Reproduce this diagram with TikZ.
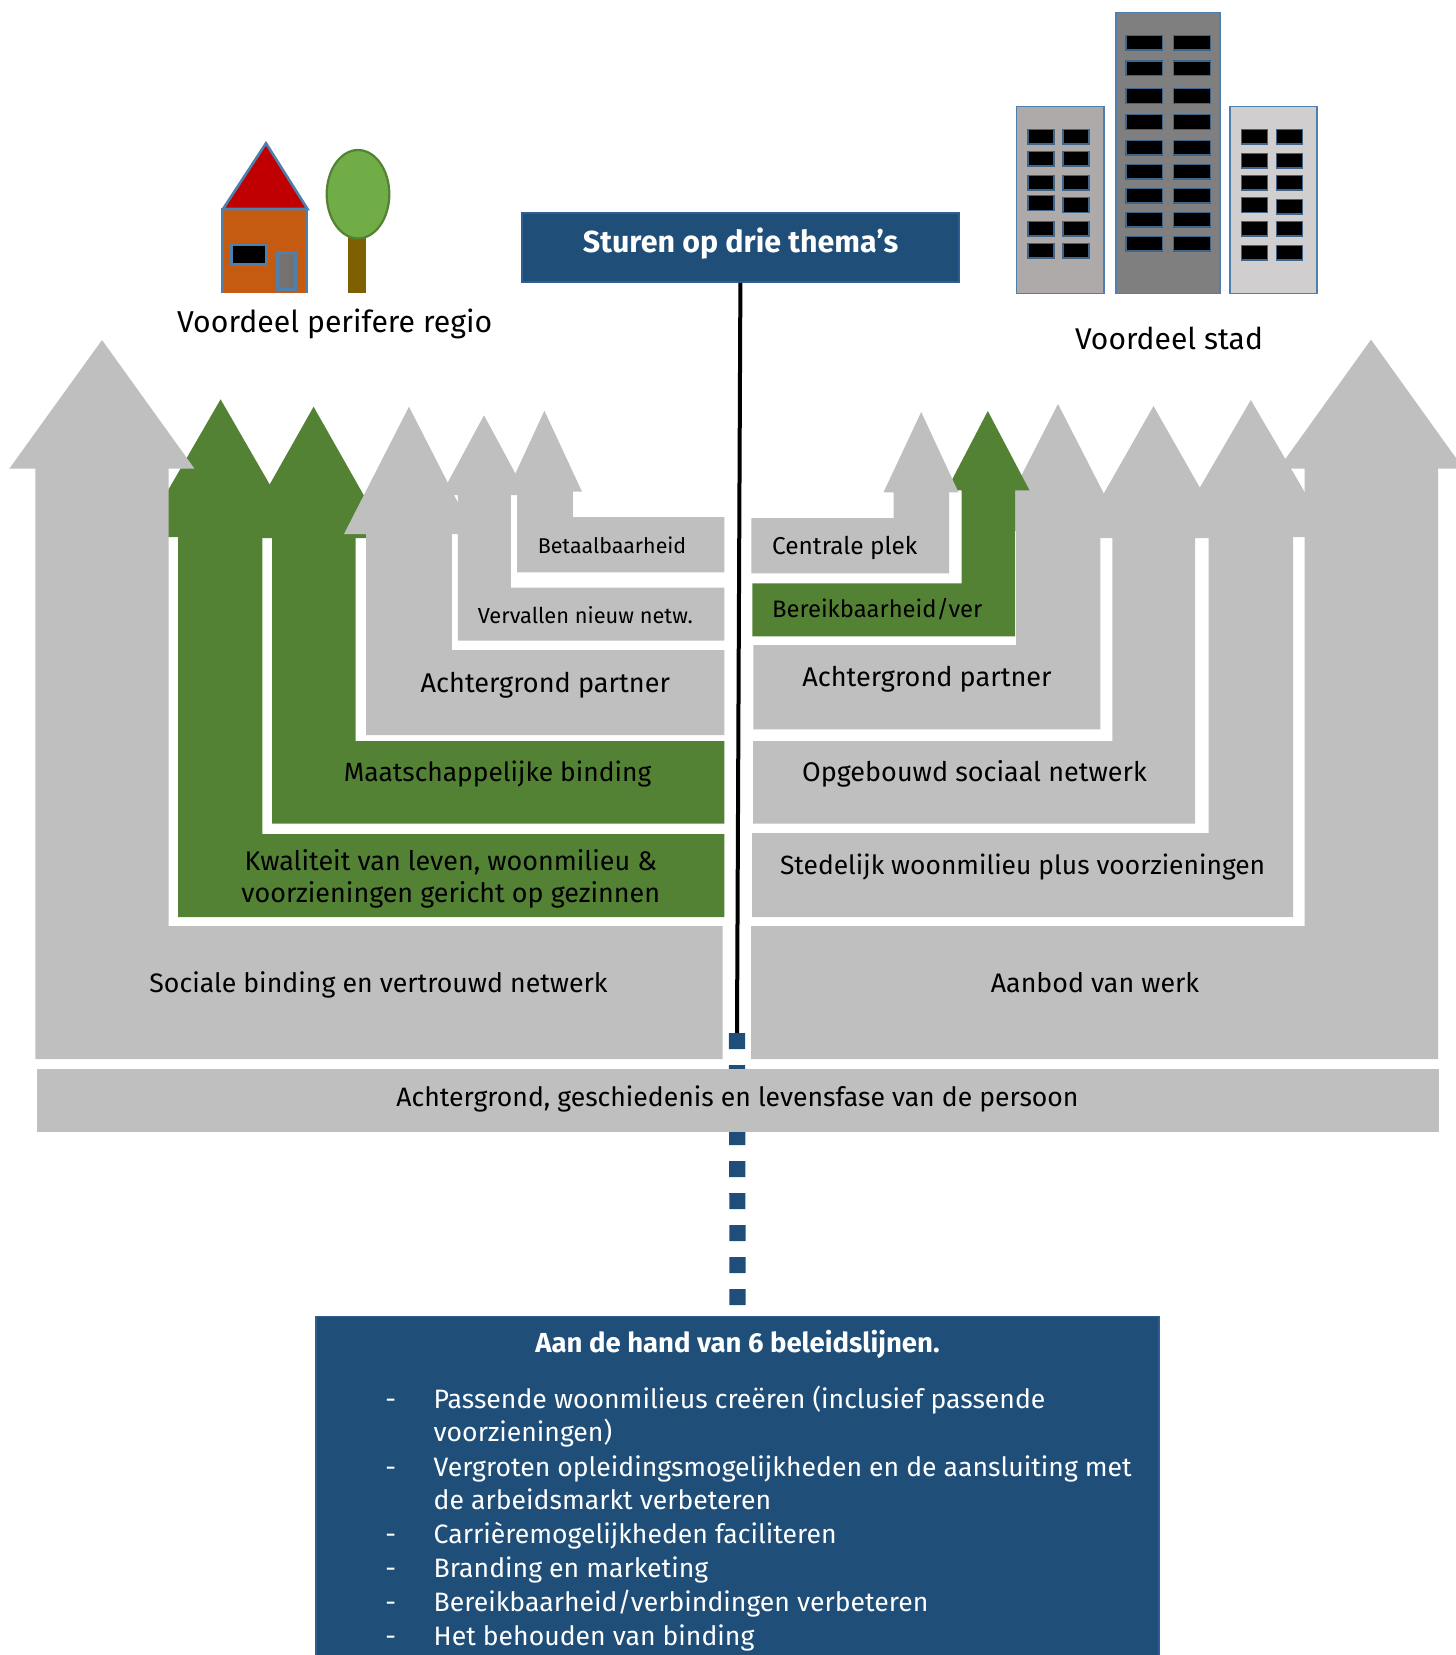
\documentclass[tikz,border=0pt]{standalone}
\usepackage{fontspec}
\setmainfont{Fira Sans}
\usetikzlibrary{calc}
\definecolor{greyfill}{HTML}{BFBFBF}
\definecolor{greenfill}{HTML}{548235}
\definecolor{navy}{HTML}{1F4E79}
\definecolor{navyline}{HTML}{2E5F92}
\definecolor{steel}{HTML}{4F7FAD}
\definecolor{brick}{HTML}{C55A11}
\definecolor{roofred}{HTML}{C00000}
\definecolor{leaf}{HTML}{70AD47}
\definecolor{trunk}{HTML}{7F6000}
\definecolor{doorgrey}{HTML}{767171}
\definecolor{bldA}{HTML}{AEAAAA}
\definecolor{bldB}{HTML}{7F7F7F}
\definecolor{bldC}{HTML}{D0CECE}
\newcommand{\fsz}[1]{\fontsize{#1}{15.8}\selectfont}
\tikzset{
  greyarrow/.style={fill=greyfill,draw=none},
  greenarrow/.style={fill=greenfill,draw=none},
  housepart/.style={draw=steel,line width=1.3pt},
  bld/.style={draw=steel,line width=0.8pt},
  win/.style={fill=black,draw=steel!80!black,line width=0.7pt},
  lbl/.style={inner sep=0pt,text=black,align=center},
  listlbl/.style={inner sep=0pt,text=white,anchor=base west,font=\fsz{13.3}},
}
\begin{document}
\begin{tikzpicture}[x=0.5pt,y=-0.5pt]
\useasboundingbox (0,0) rectangle (1456,1655);
\clip (0,0) rectangle (1456,1655);

% ---------- title box and centre line
\node[fill=navy,draw=navyline,line width=0.8pt,minimum width=218.6pt,minimum height=34.5pt,inner sep=0pt] (thema) at (740.4,247.5) {};
\node[inner sep=0pt,text=white,font=\fsz{15.2}\bfseries] (themalbl) at (740.6,243.8) {Sturen op drie thema’s};
\coordinate (lineend) at (737,1033);

% ---------- left stack
\draw[greenarrow] (220.6,399.3) -- (300,537) -- (262.4,537) -- (262.4,834) -- (724.3,834) -- (724.3,917) -- (178.2,917) -- (178.2,537) -- (141,537) -- cycle;
\draw[greenarrow] (313.6,406.7) -- (388,538) -- (355.5,538) -- (355.5,741) -- (724.3,741) -- (724.3,823.5) -- (272.2,823.5) -- (272.2,538) -- (239.4,538) -- cycle;
\draw[greyarrow] (409,406.7) -- (474,534) -- (451.8,534) -- (451.8,650) -- (724.3,650) -- (724.3,735) -- (366.2,735) -- (366.2,534) -- (344,534) -- cycle;
\draw[greyarrow] (484,415.3) -- (527,495) -- (510.9,495) -- (510.9,587.7) -- (724.3,587.7) -- (724.3,640.7) -- (457.9,640.7) -- (457.9,495) -- (441,495) -- cycle;
\draw[greyarrow] (544.4,410.7) -- (582,491.7) -- (572.8,491.7) -- (572.8,517) -- (724.3,517) -- (724.3,572.3) -- (517,572.3) -- (517,491.7) -- (507,491.7) -- cycle;
\draw[greyarrow] (102,340) -- (194.5,468.7) -- (168.5,468.7) -- (168.5,926) -- (722.7,926) -- (722.7,1059) -- (35.4,1059) -- (35.4,468.7) -- (9.3,468.7) -- cycle;

% ---------- right stack
\draw[greyarrow] (1250.8,400) -- (1331,537) -- (1293,537) -- (1293,917) -- (752,917) -- (752,833) -- (1208.6,833) -- (1208.6,537) -- (1171,537) -- cycle;
\draw[greyarrow] (1153.5,406) -- (1228.5,538) -- (1195.2,538) -- (1195.2,823.5) -- (753,823.5) -- (753,741) -- (1112.3,741) -- (1112.3,538) -- (1078.5,538) -- cycle;
\draw[greyarrow] (1058,404) -- (1123,531) -- (1100.3,531) -- (1100.3,729.3) -- (753.3,729.3) -- (753.3,645) -- (1016,645) -- (1016,531) -- (993,531) -- cycle;
\draw[greenarrow] (987.8,411) -- (1029.5,490.3) -- (1015,490.3) -- (1015,636.3) -- (752.3,636.3) -- (752.3,583.3) -- (961.5,583.3) -- (961.5,490.3) -- (946.5,490.3) -- cycle;
\draw[greyarrow] (921.2,412) -- (958.5,492.3) -- (949,492.3) -- (949,573.3) -- (751.3,573.3) -- (751.3,518) -- (893.5,518) -- (893.5,492.3) -- (883.5,492.3) -- cycle;
\draw[greyarrow] (1371,339.6) -- (1463.5,468.5) -- (1438,468.5) -- (1438,1059) -- (751,1059) -- (751,926) -- (1304.5,926) -- (1304.5,468.5) -- (1278.5,468.5) -- cycle;

% ---------- bottom box
\node[fill=navy,draw=navyline,line width=0.8pt,minimum width=421.6pt,minimum height=240pt,inner sep=0pt,anchor=north] (beleid) at (737.6,1315.5) {};

% ---------- connectors
\draw[black,line width=2pt] (thema.south) -- (lineend);
\draw[navy,line width=8.1pt,dash pattern=on 8pt off 8pt] (lineend) -- (beleid.north);

% ---------- base bar
\node[fill=greyfill,minimum width=701pt,minimum height=31.3pt,inner sep=0pt,anchor=north west] (basebar) at (37,1069) {};

% ---------- house and tree
\fill[brick] (222.3,209) rectangle (306.7,292.7);
\draw[housepart] (222.3,292.7) -- (222.3,209) -- (306.7,209) -- (306.7,292.7);
\draw[housepart,fill=roofred] (266,143.3) -- (307.5,209) -- (223,209) -- cycle;
\draw[housepart,fill=black] (231.7,245) rectangle (266.7,264.3);
\draw[housepart,fill=doorgrey] (277.3,252.7) rectangle (295.7,289.3);
\fill[trunk] (348.3,236) rectangle (365.7,292.7);
\draw[draw=greenfill,line width=1.1pt,fill=leaf] (358,194.2) ellipse [x radius=31.3,y radius=44.2];

% ---------- buildings (coordinates in thirds of a pixel from x=1000)
\begin{scope}[xshift=499.8pt,x=0.16667pt,y=-0.16667pt]
  \draw[bld,fill=bldA] (51,320) rectangle (313,880);
  \draw[bld,fill=bldB] (349,38) rectangle (661,880);
  \draw[bld,fill=bldC] (692,320) rectangle (953,880);
  % left block
  \foreach \a/\b in {388/432,454/498,526/570,587/631,664/708,730/774}
    \draw[win] (85,\a) rectangle (163,\b);
  \foreach \a/\b in {388/432,454/498,526/570,593/637,664/708,730/774}
    \draw[win] (190,\a) rectangle (268,\b);
  % tower
  \foreach \a/\b in {106/150,183/227,266/310,344/388,421/465,493/537,565/609,637/681,709/753}{
    \draw[win] (379,\a) rectangle (488,\b);
    \draw[win] (522,\a) rectangle (632,\b);
  }
  % right block
  \foreach \a/\b in {388/432,460/504,526/570,593/637,664/708,736/780}
    \draw[win] (726,\a) rectangle (804,\b);
  \foreach \a/\b in {388/432,460/504,526/570,598/642,664/708,736/780}
    \draw[win] (830,\a) rectangle (908,\b);
\end{scope}

% ---------- labels
\node[lbl,font=\fsz{15.1}] (lperi) at (334.7,324) {Voordeel perifere regio};
\node[lbl,font=\fsz{15}] (lstad) at (1169,338) {Voordeel stad};
\node[lbl,font=\fsz{10.7}] (lbetaal) at (612,545.7) {Betaalbaarheid};
\node[lbl,font=\fsz{10.9}] (lverv) at (585.3,614.7) {Vervallen nieuw netw.};
\node[lbl,font=\fsz{13.55}] (lpartl) at (545.3,685) {Achtergrond partner};
\node[lbl,font=\fsz{13.2}] (lmaat) at (497.5,774.5) {Maatschappelijke binding};
\node[lbl,font=\fsz{13.45}] (lkwal) at (450.8,879) {Kwaliteit van leven, woonmilieu \&\\voorzieningen gericht op gezinnen};
\node[lbl,font=\fsz{13.35}] (lsoc) at (378.5,985) {Sociale binding en vertrouwd netwerk};
\node[lbl,font=\fsz{12.2}] (lcent) at (844.8,548) {Centrale plek};
\node[lbl,font=\fsz{11.9}] (lbereik) at (877.2,609.3) {Bereikbaarheid/ver};
\node[lbl,font=\fsz{13.55}] (lpartr) at (927,679) {Achtergrond partner};
\node[lbl,font=\fsz{13.5}] (lopg) at (974.5,774) {Opgebouwd sociaal netwerk};
\node[lbl,font=\fsz{13.2}] (lsted) at (1022.6,867.5) {Stedelijk woonmilieu plus voorzieningen};
\node[lbl,font=\fsz{13.4}] (laanb) at (1095,983) {Aanbod van werk};
\node[lbl,font=\fsz{13.3}] (lbasis) at (737.5,1098.5) {Achtergrond, geschiedenis en levensfase van de persoon};

% ---------- policy list
\node[inner sep=0pt,text=white,font=\fsz{13.75}\bfseries] (btitle) at (737.5,1344) {Aan de hand van 6 beleidslijnen.};
\foreach \nm/\yy in {d1/1408,d3/1476,d5/1543.5,d6/1577.5,d7/1611.5,d8/1645.5}
  \node[listlbl] (\nm) at (385,\yy) {-};
\node[listlbl] (t1) at (433.3,1408) {Passende woonmilieus creëren (inclusief passende};
\node[listlbl] (t2) at (433.3,1441.5) {voorzieningen)};
\node[listlbl] (t3) at (433.3,1476) {Vergroten opleidingsmogelijkheden en de aansluiting met};
\node[listlbl] (t4) at (433.3,1509.5) {de arbeidsmarkt verbeteren};
\node[listlbl] (t5) at (433.3,1543.5) {Carrièremogelijkheden faciliteren};
\node[listlbl] (t6) at (433.3,1577.5) {Branding en marketing};
\node[listlbl] (t7) at (433.3,1611.5) {Bereikbaarheid/verbindingen verbeteren};
\node[listlbl] (t8) at (433.3,1645.5) {Het behouden van binding};
\end{tikzpicture}
\end{document}
